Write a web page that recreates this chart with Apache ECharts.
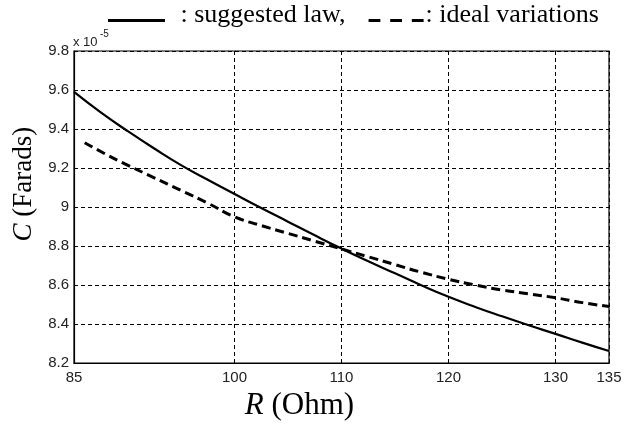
<!DOCTYPE html>
<html>
<head>
<meta charset="utf-8">
<script src="https://cdn.jsdelivr.net/npm/echarts@6/dist/echarts.min.js"></script>
<style>
  html, body { margin: 0; padding: 0; background: #fff; }
  #chart { width: 637px; height: 426px; }
</style>
</head>
<body>
<div id="chart"></div>
<script>
// Resistance R (Ohm) and capacitance C (x 1e-5 Farads)
const suggestedR = [85, 87.5, 90, 92.5, 95, 97.5, 100, 102.5, 105, 107.5, 110, 112.5, 115, 117.5, 120, 122.5, 125, 127.5, 130, 132.5, 135];
const suggestedC = [9.59, 9.485, 9.39, 9.30, 9.215, 9.14, 9.067, 8.995, 8.925, 8.855, 8.787, 8.722, 8.66, 8.598, 8.54, 8.488, 8.44, 8.394, 8.35, 8.305, 8.262];
const idealR = [86, 88, 90, 92.5, 95, 97.5, 100, 102.5, 105, 107.5, 110, 112.5, 115, 117.5, 120, 122.5, 125, 127.5, 130, 132.5, 135];
const idealC = [9.33, 9.27, 9.215, 9.15, 9.085, 9.02, 8.95, 8.905, 8.865, 8.825, 8.785, 8.745, 8.705, 8.665, 8.63, 8.6, 8.575, 8.555, 8.535, 8.51, 8.49];
const xTicks = [85, 100, 110, 120, 130, 135];
const yRange = { min: 8.2, max: 9.8, step: 0.2 };

const seriesNames = ['suggested law', 'ideal variations'];

const chart = echarts.init(document.getElementById('chart'), null, { renderer: 'canvas' });

const zip = (xs, ys) => xs.map((x, i) => [x, ys[i]]);
const gridDash = { color: '#000', width: 1, type: [4, 3] };

// legend glyphs: a tiny dot at the top keeps the stroke near the text baseline
const solidIcon = 'path://M0,0L0.01,0L0,0.01ZM0,11L57,11L57,14L0,14Z';
const dashIcon = 'path://M0,0L0.01,0L0,0.01ZM3,11L15,11L15,14L3,14ZM25,11L37,11L37,14L25,14ZM47,11L59,11L59,14L47,14Z';
const legendFont = { fontFamily: 'Liberation Serif', fontSize: 26, color: '#000' };

chart.setOption({
  animation: false,
  backgroundColor: '#fff',
  legend: {
    top: -3,
    left: 103,
    itemWidth: 58,
    itemHeight: 14,
    itemGap: 20,
    data: [
      { name: seriesNames[0], icon: solidIcon, textStyle: Object.assign({ padding: [0, 0, 0, 10] }, legendFont) },
      { name: seriesNames[1], icon: dashIcon, textStyle: Object.assign({ padding: [0, 0, 0, -3] }, legendFont) }
    ],
    itemStyle: { color: '#000' },
    formatter: n => n === seriesNames[0] ? ': ' + n + ',' : ': ' + n,
    textStyle: legendFont
  },
  grid: {
    left: 74, right: 28, top: 51, bottom: 56,
    show: true, borderColor: '#000', borderWidth: 1.2, backgroundColor: 'transparent'
  },
  xAxis: {
    type: 'value',
    min: xTicks[0], max: xTicks[xTicks.length - 1],
    axisLine: { show: true, lineStyle: { color: '#000', width: 1.2 } },
    axisTick: { show: true, inside: true, length: 4, customValues: xTicks, lineStyle: { color: '#000' } },
    axisLabel: {
      customValues: xTicks, margin: 7,
      fontFamily: 'Liberation Sans', fontSize: 15, color: '#222'
    },
    splitLine: { show: true, lineStyle: gridDash },
    name: '{i|R} (Ohm)',
    nameLocation: 'middle',
    nameGap: 21,
    nameTextStyle: {
      fontFamily: 'Liberation Serif', fontSize: 31, color: '#000',
      padding: [0, 84, 0, 0],
      rich: { i: { fontFamily: 'Liberation Serif', fontStyle: 'italic', fontSize: 31, color: '#000' } }
    }
  },
  yAxis: {
    type: 'value',
    min: yRange.min, max: yRange.max, interval: yRange.step,
    axisLine: { show: true, lineStyle: { color: '#000', width: 1.2 } },
    axisTick: { show: true, inside: true, length: 4, lineStyle: { color: '#000' } },
    axisLabel: {
      margin: 5,
      formatter: v => String(+v.toFixed(1)),
      fontFamily: 'Liberation Sans', fontSize: 15, color: '#222'
    },
    splitLine: { show: true, lineStyle: gridDash },
    name: '{i|C} (Farads)',
    nameLocation: 'middle',
    nameRotate: 90,
    nameGap: 36,
    nameTextStyle: {
      fontFamily: 'Liberation Serif', fontSize: 27, color: '#000',
      padding: [0, 0, 0, 46],
      rich: { i: { fontFamily: 'Liberation Serif', fontStyle: 'italic', fontSize: 27, color: '#000' } }
    }
  },
  graphic: [
    { type: 'text', left: 73, top: 36, style: { text: 'x 10', font: '13px "Liberation Sans"', fill: '#222' } },
    { type: 'text', left: 100, top: 29, style: { text: '-5', font: '10px "Liberation Sans"', fill: '#222' } }
  ],
  series: [
    {
      name: seriesNames[0], type: 'line', showSymbol: false, smooth: true,
      data: zip(suggestedR, suggestedC),
      lineStyle: { color: '#000', width: 2.2 }, itemStyle: { color: '#000' }
    },
    {
      name: seriesNames[1], type: 'line', showSymbol: false, smooth: true,
      data: zip(idealR, idealC),
      lineStyle: { color: '#000', width: 3, type: [9, 5] }, itemStyle: { color: '#000' }
    }
  ]
});
</script>
</body>
</html>
